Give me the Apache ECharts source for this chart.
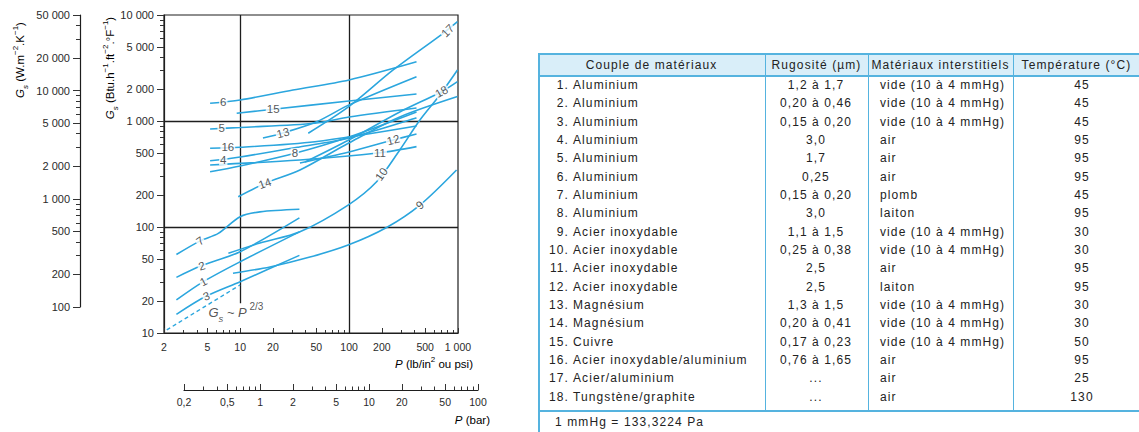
<!DOCTYPE html>
<html><head><meta charset="utf-8">
<script src="https://cdn.jsdelivr.net/npm/echarts@6/dist/echarts.min.js"></script>
<style>
html,body{margin:0;padding:0;background:#fff;}
#wrap{position:relative;width:1139px;height:432px;overflow:hidden;}
#chart{position:absolute;left:0;top:0;width:1139px;height:432px;}
#tbl{position:absolute;left:538px;top:53px;width:602px;height:379px;font-family:"Liberation Sans",Arial,sans-serif;font-size:12px;letter-spacing:1.1px;color:#222;}
.t{position:absolute;white-space:nowrap;line-height:16px;height:16px;}
.hl{position:absolute;background:#55b3df;}
</style></head><body>
<div id="wrap"><div id="chart"></div><div id="tbl"></div></div>
<script>
// ---------- axis tick values ----------
const P_LABELS=[2,5,10,20,50,100,200,500,1000];
const P_MINOR=[3,4,6,7,8,9,30,40,60,70,80,90,300,400,600,700,800,900];
const G_LABELS=[10,20,50,100,200,500,1000,2000,5000,10000];
const G_MINOR=[30,40,60,70,80,90,300,400,600,700,800,900,3000,4000,6000,7000,8000,9000];
const W_LABELS=[100,200,500,1000,2000,5000,10000,20000,50000];
const W_MINOR=[300,400,600,700,800,900,3000,4000,6000,7000,8000,9000,30000,40000];
const BAR_LABELS=[0.2,0.5,1,2,5,10,20,50,100];
const BAR_MINOR=[0.3,0.4,0.6,0.7,0.8,0.9,3,4,6,7,8,9,30,40,60,70,80,90];

// ---------- curves: [P (psi), Gs (Btu.h-1.ft-2.F-1)] ----------
const c1=[[2.6,20.5],[4.6,30.5],[10,47],[35,90]];
const c2=[[2.6,33.5],[4.4,43],[10,58.5],[35,122]];
const c3=[[2.6,15],[4.9,22.3],[10,30.5],[35,54]];
const c4=[[5.3,422],[10,458],[35,569],[100,692],[416,1070]];
const c5=[[5.3,841],[10,869],[48.6,951],[100,1091],[416,1327]];
const c6=[[5.3,1469],[10,1580],[30.5,1960],[100,2440],[416,3620]];
const c7=[[2.6,55],[4.3,74],[6.3,87],[10,125],[15.2,139],[35,147]];
const c8=[[5.3,332],[10,376],[31.8,496],[100,706],[416,1216]];
const c9=[[8.6,36.6],[18.8,42],[43.7,52],[98,67.6],[221,99],[447,161],[970,345]];
const c10=[[7.8,56.5],[15.2,70.6],[35.4,90],[98,161],[179,267],[292,532],[447,1020],[681,1760],[989,3030]];
const c11=[[5.3,385],[35.4,429],[192,502],[416,573]];
const c12=[[35.4,402],[100,510],[254,662],[416,754]];
const c13=[[16.2,692],[24.7,771],[50.4,985],[100,1420],[416,2620]];
const c14=[[9.6,193],[16.9,258],[35.4,345],[99.3,620],[292,1091],[989,1700]];
const c15=[[9.3,1183],[20.1,1290],[99.5,1544],[416,1798]];
const c16=[[5.3,553],[10,565],[48.6,638],[416,897]];
const c17=[[42.2,766],[99.3,1364],[254,3030],[730,6720],[989,8650]];
const c18=[[39.4,410],[99.5,662],[292,1216],[706,1890],[989,2350]];
const refLine=[[2.12,10.7],[10,28.4]];           // Gs ~ P^(2/3)
const GRID_P=[10,100];                              // vertical rules (psi)
const GRID_G=[100,1000];                            // horizontal rules
const P10_RULE_LOW=19.1;                            // lower end of P=10 rule

// curve labels: [text, P, Gs]
const CURVE_LABELS=[['7',4.28,74],['2',4.44,43],['1',4.6,30.5],['3',4.9,22.3],
 ['6',7.0,1500],['15',20.1,1290],['5',6.76,850],['13',24.7,771],['16',7.7,568],
 ['4',7.0,425],['8',31.8,496],['11',192,502],['12',254,662],['14',16.9,258],
 ['10',198,315],['9',447,161],['17',804,7100],['18',706,1890]];
const REF_LABEL=[5.06,15.5];

// ---------- table ----------
const TBL_HEAD=['Couple de matériaux','Rugosité (µm)','Matériaux interstitiels','Température (°C)'];
const MATERIALS=['Aluminium','Aluminium','Aluminium','Aluminium','Aluminium','Aluminium','Aluminium','Aluminium',
 'Acier inoxydable','Acier inoxydable','Acier inoxydable','Acier inoxydable','Magnésium','Magnésium','Cuivre',
 'Acier inoxydable/aluminium','Acier/aluminium','Tungstène/graphite'];
const ROUGHNESS=['1,2 à 1,7','0,20 à 0,46','0,15 à 0,20','3,0','1,7','0,25','0,15 à 0,20','3,0','1,1 à 1,5',
 '0,25 à 0,38','2,5','2,5','1,3 à 1,5','0,20 à 0,41','0,17 à 0,23','0,76 à 1,65','...','...'];
const INTERSTITIAL=['vide (10 à 4 mmHg)','vide (10 à 4 mmHg)','vide (10 à 4 mmHg)','air','air','air','plomb','laiton',
 'vide (10 à 4 mmHg)','vide (10 à 4 mmHg)','air','laiton','vide (10 à 4 mmHg)','vide (10 à 4 mmHg)','vide (10 à 4 mmHg)','air','air','air'];
const TEMPERATURE=[45,45,45,95,95,95,45,95,30,30,95,95,30,30,50,95,25,130];
const FOOTNOTE='1 mmHg = 133,3224 Pa';

// ================= table (HTML) =================
(function(){
  const T=document.getElementById('tbl');
  const W=602, HEAD_H=22, BODY_BOTTOM=357, ROW0=32, ROW_H=18.33;
  const COLS=[0,227,330,475,W];
  function box(l,t,w,h,cls,bg){const d=document.createElement('div');d.className=cls||'';d.style.cssText=
    'position:absolute;left:'+l+'px;top:'+t+'px;width:'+w+'px;height:'+h+'px;'+(bg?'background:'+bg+';':'');T.appendChild(d);return d;}
  function txt(s,x,yc,align){const d=document.createElement('div');d.className='t';d.textContent=s;
    d.style.top=(yc-8)+'px';
    if(align==='center'){d.style.left=(x-150)+'px';d.style.width='300px';d.style.textAlign='center';}
    else if(align==='right'){d.style.right=(W-x)+'px';d.style.textAlign='right';}
    else{d.style.left=x+'px';}
    T.appendChild(d);return d;}
  box(0,0,W,HEAD_H,'','#d9eef9');
  box(0,0,W,1.5,'hl');
  box(0,HEAD_H,W,1.5,'hl');
  box(0,BODY_BOTTOM,W,1.8,'hl');
  box(0,0,1.5,379,'hl');
  [COLS[1],COLS[2],COLS[3]].forEach(x=>box(x,0,1.3,BODY_BOTTOM,'hl'));
  box(W-1.5,0,1.5,379,'hl');
  const hc=[(COLS[0]+COLS[1])/2,(COLS[1]+COLS[2])/2,(COLS[2]+COLS[3])/2,(COLS[3]+COLS[4])/2];
  TBL_HEAD.forEach((h,i)=>txt(h,hc[i],11.5,'center'));
  MATERIALS.forEach((m,i)=>{
    const yc=ROW0+ROW_H*i;
    txt((i+1)+'.',31,yc,'right');
    txt(m,35,yc,'left');
    txt(ROUGHNESS[i],278,yc,'center');
    txt(INTERSTITIAL[i],342,yc,'left');
    txt(String(TEMPERATURE[i]),544,yc,'center');
  });
  txt(FOOTNOTE,17,368.7,'left');
})();

// ================= chart =================
const FONT='"Liberation Sans", Arial, sans-serif';
const BLUE='#2ba6de';
const INK='#1e1e1e';
const LABEL_ROT={'7':35,'2':18,'1':28,'3':20,'13':14,'12':14,'14':20,'10':55,'9':40,'17':45,'18':30};

function fmtNum(v){
  let s=String(+(+v).toPrecision(6));
  let parts=s.split('.');
  let i=parts[0].replace(/\B(?=(\d{3})+(?!\d))/g,' ');
  return parts[1]?i+','+parts[1]:i;
}
function logAxis(o){
  return Object.assign({type:'log',logBase:10,splitLine:{show:false},minorTick:{show:false},
    minorSplitLine:{show:false},axisLine:{show:false,onZero:false},axisPointer:{show:false}},o);
}
const tickStyle={color:'#333',width:1};
const lineStyleAxis={color:INK,width:1.2};
const lblStyle=(vals,size,margin)=>({customValues:vals,formatter:fmtNum,fontSize:size,margin:margin,color:'#2a2a2a',fontFamily:FONT});

const chart=echarts.init(document.getElementById('chart'),null,{renderer:'svg'});

const xAxis=[
  logAxis({gridIndex:0,position:'bottom',min:2,max:1000,axisLine:{show:true,onZero:false,lineStyle:lineStyleAxis},
    axisTick:{show:true,inside:true,length:5,customValues:P_LABELS,lineStyle:tickStyle},axisLabel:lblStyle(P_LABELS,10.5,8)}),
  logAxis({gridIndex:0,position:'bottom',min:2,max:1000,
    axisTick:{show:true,inside:true,length:3,customValues:P_MINOR,lineStyle:tickStyle},axisLabel:{show:false}}),
  {gridIndex:1,type:'value',show:false},
  logAxis({gridIndex:2,position:'bottom',min:0.2,max:100,axisLine:{show:true,onZero:false,lineStyle:lineStyleAxis},
    axisTick:{show:true,inside:true,length:6,customValues:BAR_LABELS,lineStyle:tickStyle},axisLabel:lblStyle(BAR_LABELS,10.5,6)}),
  logAxis({gridIndex:2,position:'bottom',min:0.2,max:100,
    axisTick:{show:true,inside:true,length:3.5,customValues:BAR_MINOR,lineStyle:tickStyle},axisLabel:{show:false}})
];
const yAxis=[
  logAxis({gridIndex:0,position:'left',min:10,max:10000,axisLine:{show:true,onZero:false,lineStyle:lineStyleAxis},
    axisTick:{show:true,inside:false,length:7,customValues:G_LABELS,lineStyle:tickStyle},axisLabel:lblStyle(G_LABELS,11,10)}),
  logAxis({gridIndex:0,position:'left',min:10,max:10000,
    axisTick:{show:true,inside:false,length:4,customValues:G_MINOR,lineStyle:tickStyle},axisLabel:{show:false}}),
  logAxis({gridIndex:1,position:'left',min:100,max:50000,axisLine:{show:true,onZero:false,lineStyle:lineStyleAxis},
    axisTick:{show:true,inside:false,length:7,customValues:W_LABELS,lineStyle:tickStyle},axisLabel:lblStyle(W_LABELS,11,10)}),
  logAxis({gridIndex:1,position:'left',min:100,max:50000,
    axisTick:{show:true,inside:false,length:4,customValues:W_MINOR,lineStyle:tickStyle},axisLabel:{show:false}}),
  {gridIndex:2,type:'value',show:false}
];

const curves=[c1,c2,c3,c4,c5,c6,c7,c8,c9,c10,c11,c12,c13,c14,c15,c16,c17,c18];
const series=curves.map((d,i)=>({name:'courbe '+(i+1),type:'line',xAxisIndex:0,yAxisIndex:0,data:d,
  smooth:0.3,showSymbol:false,symbol:'none',lineStyle:{color:BLUE,width:1.6},z:3,silent:true}));

const ruleData=[];
ruleData.push([{coord:[GRID_P[0],P10_RULE_LOW]},{coord:[GRID_P[0],10000]}]);
ruleData.push({xAxis:GRID_P[1]});
GRID_G.forEach(g=>ruleData.push({yAxis:g}));

series.push({name:'ref',type:'line',xAxisIndex:0,yAxisIndex:0,data:refLine,showSymbol:false,symbol:'none',
  lineStyle:{color:BLUE,width:1.4,type:[4,3]},z:2,silent:true,
  markLine:{silent:true,symbol:['none','none'],label:{show:false},lineStyle:{color:INK,width:1.3,type:'solid'},
    emphasis:{disabled:true},data:ruleData,z:1}});

series.push({name:'labels',type:'scatter',xAxisIndex:0,yAxisIndex:0,symbol:'circle',symbolSize:1,
  itemStyle:{color:'rgba(0,0,0,0)'},z:6,silent:true,
  label:{show:true,position:'inside',formatter:'{b}',fontSize:11.5,color:'#2a2a2a',fontFamily:FONT,
    backgroundColor:'#fff',padding:[-1,1,-1,1],lineHeight:12},
  data:CURVE_LABELS.map(([n,p,g])=>({name:n,value:[p,g],label:{rotate:LABEL_ROT[n]||0}}))});

const richBase={
  n:{fontSize:11.5,fontFamily:FONT,color:'#2a2a2a',lineHeight:18,verticalAlign:'middle'},
  g:{fontSize:11.5,fontFamily:FONT,fontStyle:'italic',color:'#2a2a2a',lineHeight:18,verticalAlign:'middle'},
  s:{fontSize:8,fontFamily:FONT,fontStyle:'italic',color:'#2a2a2a',lineHeight:9,verticalAlign:'bottom'},
  p:{fontSize:8,fontFamily:FONT,color:'#2a2a2a',lineHeight:9,verticalAlign:'top'}
};
const richBig={
  n:{fontSize:13,fontFamily:FONT,color:'#2a2a2a',lineHeight:22,verticalAlign:'middle'},
  g:{fontSize:13,fontFamily:FONT,fontStyle:'italic',color:'#2a2a2a',lineHeight:22,verticalAlign:'middle'},
  s:{fontSize:9.5,fontFamily:FONT,fontStyle:'italic',color:'#2a2a2a',lineHeight:12,verticalAlign:'bottom'},
  p:{fontSize:10,fontFamily:FONT,color:'#2a2a2a',lineHeight:12,verticalAlign:'top'}
};

series.push({name:'refLabel',type:'scatter',xAxisIndex:0,yAxisIndex:0,symbol:'circle',symbolSize:1,
  itemStyle:{color:'rgba(0,0,0,0)'},z:6,silent:true,
  label:{show:true,position:'right',distance:0,formatter:'{g|G}{s|s}{n| ~ }{g|P}{p| 2/3}',rich:richBig},
  data:[{name:'ref',value:REF_LABEL}]});

chart.setOption({
  animation:false,
  backgroundColor:'#fff',
  textStyle:{fontFamily:FONT},
  grid:[
    {left:164,top:15,width:294,height:318,show:true,borderColor:INK,borderWidth:1.2,backgroundColor:'transparent'},
    {left:80,top:15,width:1,height:292,show:false},
    {left:184,top:389,width:294,height:1,show:false}
  ],
  xAxis:xAxis,
  yAxis:yAxis,
  series:series,
  graphic:[
    {type:'text',x:20,y:60,rotation:Math.PI/2,silent:true,
      style:{text:'{g|G}{s|s}{n| (W.m}{p|−2}{n|.K}{p|−1}{n|)}',rich:richBase,align:'center',verticalAlign:'middle'}},
    {type:'text',x:110,y:68,rotation:Math.PI/2,silent:true,
      style:{text:'{g|G}{s|s}{n| (Btu.h}{p|−1}{n|.ft}{p|−2}{n|.°F}{p|−1}{n|)}',rich:richBase,align:'center',verticalAlign:'middle'}},
    {type:'text',x:473,y:364,silent:true,
      style:{text:'{g|P}{n| (lb/in}{p|2}{n| ou psi)}',rich:richBase,align:'right',verticalAlign:'middle'}},
    {type:'text',x:490,y:420,silent:true,
      style:{text:'{g|P}{n| (bar)}',rich:richBase,align:'right',verticalAlign:'middle'}}
  ]
});
</script>
</body></html>
